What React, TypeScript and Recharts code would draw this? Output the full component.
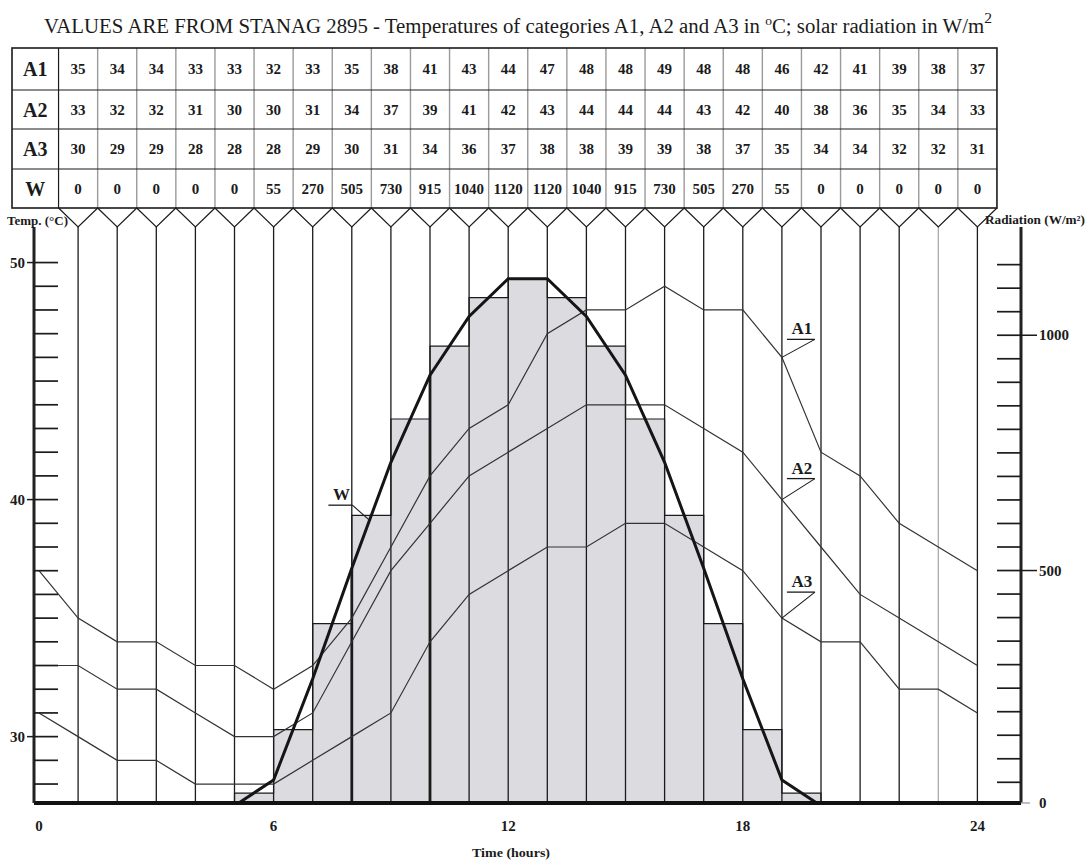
import {
  Area,
  ComposedChart,
  Line,
  ReferenceDot,
  ReferenceLine,
  XAxis,
  YAxis,
} from "recharts";

const FONT = '"Liberation Serif", "DejaVu Serif", serif';
const INK = "#1b1b1b";
const BAR_FILL = "#dcdce0";

// table columns are the hours 1..24; the curves start at hour 0 with the 24h value
const HOURS = [0, 1, 2, 3, 4, 5, 6, 7, 8, 9, 10, 11, 12, 13, 14, 15, 16, 17, 18, 19, 20, 21, 22, 23, 24];
const A1 = [35, 34, 34, 33, 33, 32, 33, 35, 38, 41, 43, 44, 47, 48, 48, 49, 48, 48, 46, 42, 41, 39, 38, 37];
const A2 = [33, 32, 32, 31, 30, 30, 31, 34, 37, 39, 41, 42, 43, 44, 44, 44, 43, 42, 40, 38, 36, 35, 34, 33];
const A3 = [30, 29, 29, 28, 28, 28, 29, 30, 31, 34, 36, 37, 38, 38, 39, 39, 38, 37, 35, 34, 34, 32, 32, 31];
const W = [0, 0, 0, 0, 0, 55, 270, 505, 730, 915, 1040, 1120, 1120, 1040, 915, 730, 505, 270, 55, 0, 0, 0, 0, 0];
// grey histogram, one bar per interval [h, h+1]
const W_BARS = [0, 0, 0, 0, 0, 27, 162, 387, 617, 822, 977, 1080, 1120, 1080, 977, 822, 617, 387, 162, 27, 0, 0, 0, 0];

const X_TICKS = [0, 6, 12, 18, 24];
const TEMP_TICKS = [28, 29, 30, 31, 32, 33, 34, 35, 36, 37, 38, 39, 40, 41, 42, 43, 44, 45, 46, 47, 48, 49, 50];
const TEMP_LABELS = [30, 40, 50];
const RAD_TICKS = [0, 50, 100, 150, 200, 250, 300, 350, 400, 450, 500, 550, 600, 650, 700, 750, 800, 850, 900, 950, 1000, 1050, 1100, 1150];
const RAD_LABELS = [0, 500, 1000];
const DROP_HOURS = [8, 10];
const GREY_HOUR = 23;

const ROWS = [
  { name: "A1", values: A1 },
  { name: "A2", values: A2 },
  { name: "A3", values: A3 },
  { name: "W", values: W },
];

const data = HOURS.map((h) => {
  const i = h === 0 ? 23 : h - 1;
  return { hour: h, a1: A1[i], a2: A2[i], a3: A3[i], w: W[i], bar: W_BARS[h] ?? 0 };
});

// layout
const CHART_W = 1086;
const CHART_H = 863;
const PLOT_L = 34;
const PLOT_R = 1021;
const PLOT_T = 227;
const PLOT_B = 803;
const H0 = 39; // pixel of hour 0
const HW = 39.1; // pixels per hour
const hx = (h: number) => H0 + h * HW;
const X_DOMAIN = [(PLOT_L - H0) / HW, (PLOT_R - H0) / HW];

const TABLE_TOP = 48;
const ROW_Y = [48, 90, 129, 169, 208];
const V_TIP = PLOT_T;

function TempTick({ x, y, payload }: any) {
  const v = payload.value;
  const major = TEMP_LABELS.includes(v);
  return (
    <g>
      <line x1={x} x2={x + 24} y1={y} y2={y} stroke={INK} strokeWidth={1.7} />
      {major && <line x1={x - 7} x2={x} y1={y} y2={y} stroke={INK} strokeWidth={1.5} />}
      {major && (
        <text x={x - 9} y={y} dy={5} textAnchor="end" fontFamily={FONT} fontWeight="bold" fontSize={15} fill={INK}>
          {v}
        </text>
      )}
    </g>
  );
}

function RadTick({ x, y, payload }: any) {
  const v = payload.value;
  const major = RAD_LABELS.includes(v);
  const yy = v === 0 ? PLOT_B : y;
  return (
    <g>
      {v > 0 && <line x1={x - 24} x2={x} y1={y} y2={y} stroke={INK} strokeWidth={1.7} />}
      {major && (
        <line x1={x} x2={x + (v === 0 ? 9 : 16)} y1={yy} y2={yy} stroke={v === 0 ? "#aaa" : INK} strokeWidth={1.5} />
      )}
      {major && (
        <text x={x + 18} y={yy} dy={5} fontFamily={FONT} fontWeight="bold" fontSize={15} fill={INK}>
          {v}
        </text>
      )}
    </g>
  );
}

const seriesTag = (name: string, dx: number, dy: number, under: number) => (p: any) => (
  <g>
    <line x1={p.cx} y1={p.cy} x2={p.cx + dx} y2={p.cy + dy} stroke={INK} strokeWidth={1.1} />
    <line x1={p.cx + dx - under} x2={p.cx + dx} y1={p.cy + dy} y2={p.cy + dy} stroke={INK} strokeWidth={1.3} />
    <text
      x={p.cx + dx - under / 2 + 1}
      y={p.cy + dy - 5}
      textAnchor="middle"
      fontFamily={FONT}
      fontWeight="bold"
      fontSize={17}
      fill={INK}
    >
      {name}
    </text>
  </g>
);

function Table() {
  const left = 12;
  const labelRight = hx(0.5);
  const right = hx(24.5);
  return (
    <g>
      {/* column separators */}
      {HOURS.slice(1, 24).map((h) => (
        <line key={h} x1={hx(h + 0.5)} x2={hx(h + 0.5)} y1={TABLE_TOP} y2={ROW_Y[4]} stroke="#9a9a9a" strokeWidth={1.4} />
      ))}
      <line x1={labelRight} x2={labelRight} y1={TABLE_TOP} y2={ROW_Y[4]} stroke={INK} strokeWidth={1.2} />
      {ROW_Y.slice(1, 4).map((y) => (
        <line key={y} x1={left} x2={right} y1={y} y2={y} stroke={INK} strokeWidth={1.2} />
      ))}
      <rect x={left} y={TABLE_TOP} width={right - left} height={ROW_Y[4] - TABLE_TOP} fill="none" stroke={INK} strokeWidth={1.6} />
      {ROWS.map((row, r) => {
        const cy = (ROW_Y[r] + ROW_Y[r + 1]) / 2;
        return (
          <g key={row.name}>
            <text x={(left + labelRight) / 2} y={cy + 7} textAnchor="middle" fontFamily={FONT} fontWeight="bold" fontSize={20} fill={INK}>
              {row.name}
            </text>
            {row.values.map((v, i) => (
              <text key={i} x={hx(i + 1)} y={cy + 5} textAnchor="middle" fontFamily={FONT} fontWeight="bold" fontSize={15} fill={INK}>
                {v}
              </text>
            ))}
          </g>
        );
      })}
      {/* pointers from each column down to its hour line */}
      {HOURS.slice(1).map((h) => (
        <polyline
          key={h}
          points={`${hx(h - 0.5)},${ROW_Y[4]} ${hx(h)},${V_TIP} ${hx(h + 0.5)},${ROW_Y[4]}`}
          fill="none"
          stroke={INK}
          strokeWidth={1.2}
        />
      ))}
    </g>
  );
}

export default function App() {
  return (
    <div style={{ position: "absolute", left: 0, top: 0, width: CHART_W, height: CHART_H, background: "#fff" }}>
      <ComposedChart
        width={CHART_W}
        height={CHART_H}
        data={data}
        margin={{ top: PLOT_T, right: 0, bottom: CHART_H - PLOT_B - 40, left: 0 }}
      >
        <Area
          yAxisId="w"
          type="stepAfter"
          dataKey="bar"
          stroke={INK}
          strokeWidth={1.2}
          fill={BAR_FILL}
          fillOpacity={1}
          isAnimationActive={false}
        />
        {HOURS.slice(1).map((h) => (
          <ReferenceLine
            key={h}
            yAxisId="t"
            x={h}
            stroke={h === GREY_HOUR ? "#aaa" : INK}
            strokeWidth={1.3}
          />
        ))}
        {DROP_HOURS.map((h) => (
          <ReferenceLine
            key={`d${h}`}
            yAxisId="w"
            segment={[
              { x: h, y: 6 },
              { x: h, y: W[h - 1] },
            ]}
            stroke={INK}
            strokeWidth={2.8}
          />
        ))}
        <Line yAxisId="t" type="linear" dataKey="a1" stroke="#333" strokeWidth={1.2} dot={false} isAnimationActive={false} />
        <Line yAxisId="t" type="linear" dataKey="a2" stroke="#333" strokeWidth={1.2} dot={false} isAnimationActive={false} />
        <Line yAxisId="t" type="linear" dataKey="a3" stroke="#333" strokeWidth={1.2} dot={false} isAnimationActive={false} />
        <Line yAxisId="w" type="linear" dataKey="w" stroke="#151515" strokeWidth={3} dot={false} isAnimationActive={false} />
        <ReferenceDot yAxisId="t" x={19} y={A1[18]} r={1} fill={INK} stroke="none" shape={seriesTag("A1", 33, -18, 28)} />
        <ReferenceDot yAxisId="t" x={19} y={A2[18]} r={1} fill={INK} stroke="none" shape={seriesTag("A2", 33, -21, 28)} />
        <ReferenceDot yAxisId="t" x={19} y={A3[18]} r={1} fill={INK} stroke="none" shape={seriesTag("A3", 33, -26, 28)} />
        <ReferenceDot yAxisId="w" x={8.45} y={607} r={1} fill={INK} stroke="none" shape={seriesTag("W", -17, -15, 24)} />
        <XAxis
          dataKey="hour"
          type="number"
          domain={X_DOMAIN}
          allowDataOverflow
          ticks={X_TICKS}
          interval={0}
          height={40}
          tickLine={false}
          tickSize={0}
          tickMargin={17}
          axisLine={{ stroke: "#111", strokeWidth: 4 }}
          tick={{ fontFamily: FONT, fontWeight: "bold", fontSize: 15, fill: INK }}
        />
        <YAxis
          yAxisId="t"
          orientation="left"
          width={PLOT_L}
          domain={[27.2, 51.5]}
          allowDataOverflow
          ticks={TEMP_TICKS}
          interval={0}
          tickLine={false}
          tickSize={0}
          tickMargin={0}
          axisLine={{ stroke: "#222", strokeWidth: 3 }}
          tick={<TempTick />}
        />
        <YAxis
          yAxisId="w"
          orientation="right"
          width={CHART_W - PLOT_R}
          domain={[6, 1230]}
          allowDataOverflow
          ticks={RAD_TICKS}
          interval={0}
          tickLine={false}
          tickSize={0}
          tickMargin={0}
          axisLine={{ stroke: "#222", strokeWidth: 3 }}
          tick={<RadTick />}
        />
      </ComposedChart>
      <svg
        width={CHART_W}
        height={CHART_H}
        style={{ position: "absolute", left: 0, top: 0, pointerEvents: "none" }}
      >
        <text
          x={518}
          y={33}
          textAnchor="middle"
          fontFamily={FONT}
          fontSize={20}
          fill={INK}
          textLength={948}
          lengthAdjust="spacingAndGlyphs"
        >
          VALUES ARE FROM STANAG 2895 - Temperatures of categories A1, A2 and A3 in{" "}
          <tspan dy={-8} fontSize={13}>o</tspan>
          <tspan dy={8}>C; solar radiation in W/m</tspan>
          <tspan dy={-10} fontSize={15}>2</tspan>
        </text>
        <Table />
        <text x={7} y={225} fontFamily={FONT} fontWeight="bold" fontSize={12} fill={INK} textLength={61} lengthAdjust="spacingAndGlyphs">
          Temp. (°C)
        </text>
        <text x={985} y={224} fontFamily={FONT} fontWeight="bold" fontSize={12} fill={INK} textLength={100} lengthAdjust="spacingAndGlyphs">
          Radiation (W/m²)
        </text>
        <text x={511} y={857} textAnchor="middle" fontFamily={FONT} fontWeight="bold" fontSize={12} fill={INK} textLength={78} lengthAdjust="spacingAndGlyphs">
          Time (hours)
        </text>
      </svg>
    </div>
  );
}
